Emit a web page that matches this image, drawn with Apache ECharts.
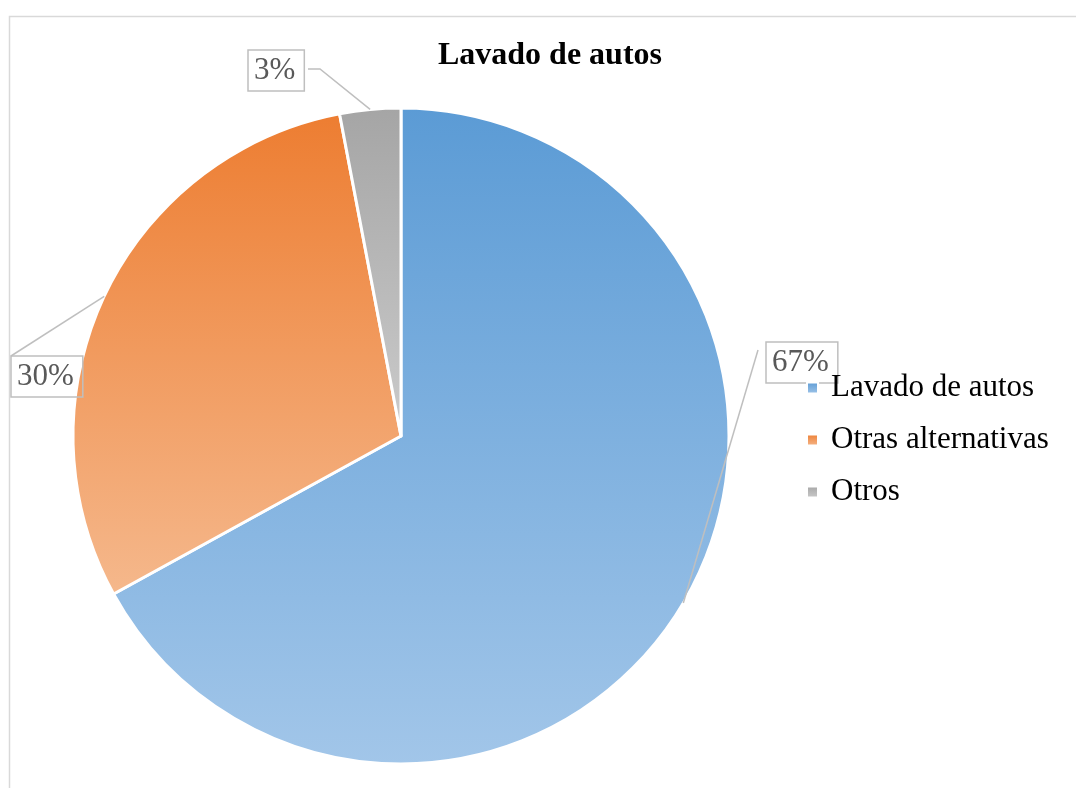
<!DOCTYPE html>
<html lang="es">
<head>
    <meta charset="UTF-8">
    <title>Lavado de autos</title>
    <script type="text/javascript" src="https://cdn.jsdelivr.net/npm/echarts@6/dist/echarts.min.js"></script>
    <style>
        html, body { margin: 0; padding: 0; background: #fff; }
    </style>
</head>
<body>
<div id="main" style="width: 1076px;height:788px;"></div>

<script type="text/javascript">
    // datos del grafico
    var categorias = ['Lavado de autos', 'Otras alternativas', 'Otros'];
    var valores = [67, 30, 3];
    var colorArriba = ['#5B9BD5', '#ED7D31', '#A5A5A5'];
    var colorAbajo = ['#A2C6E9', '#F5B88C', '#CBCBCB'];

    // posicion de las etiquetas (esquina sup. izq. de la caja) y quiebres de la linea guia
    var cajaEtiqueta = [[766, 342], [11, 356], [248, 50]];
    var lineaEtiqueta = [[[758, 350]], [[11, 356]], [[320, 69], [308, 69]]];

    var serif = '"Liberation Serif", "DejaVu Serif", serif';
    var centro = [401, 436];
    var radio = 328;

    var datos = [];
    var datosEtiq = [];
    for (var i = 0; i < categorias.length; i++) {
        datos.push({
            name: categorias[i],
            value: valores[i],
            itemStyle: {
                color: new echarts.graphic.LinearGradient(0, 0, 0, 1, [
                    { offset: 0, color: colorArriba[i] },
                    { offset: 1, color: colorAbajo[i] }
                ])
            }
        });
        datosEtiq.push({ name: categorias[i], value: valores[i] });
    }

    // punto medio del borde de cada porcion (inicio de la linea guia)
    var total = valores.reduce(function (a, b) { return a + b; }, 0);
    function puntoMedio(k) {
        var acum = 0;
        for (var j = 0; j < k; j++) acum += valores[j];
        var ang = (acum + valores[k] / 2) / total * Math.PI * 2;
        return [centro[0] + radio * Math.sin(ang), centro[1] - radio * Math.cos(ang)];
    }

    var myChart = echarts.init(document.getElementById('main'));
    myChart.setOption({
        backgroundColor: '#fff',
        animation: false,
        title: {
            text: 'Lavado de autos',
            left: 545,
            top: 35,
            textAlign: 'center',
            textStyle: { fontFamily: serif, fontSize: 32, fontWeight: 'bold', color: '#000' }
        },
        legend: {
            orient: 'vertical',
            left: 806,
            top: 372,
            padding: 0,
            itemWidth: 11,
            itemHeight: 11,
            itemGap: 20,
            icon: 'rect',
            data: categorias,
            textStyle: { fontFamily: serif, fontSize: 31, lineHeight: 32, color: '#000', padding: [0, 0, 0, 8] }
        },
        graphic: [{
            type: 'rect',
            shape: { x: 9.5, y: 16.5, width: 1200, height: 900 },
            style: { fill: null, stroke: '#D9D9D9', lineWidth: 1.5 },
            silent: true
        }],
        series: [{
            // porciones
            type: 'pie',
            center: centro,
            radius: radio,
            startAngle: 90,
            clockwise: true,
            itemStyle: { borderColor: '#fff', borderWidth: 3 },
            label: { show: false },
            labelLine: { show: false },
            data: datos
        }, {
            // misma torta transparente encima, solo para etiquetas y lineas guia
            type: 'pie',
            z: 3,
            silent: true,
            center: centro,
            radius: radio,
            startAngle: 90,
            clockwise: true,
            avoidLabelOverlap: false,
            itemStyle: { color: 'rgba(0,0,0,0)', borderWidth: 0 },
            label: {
                show: true,
                formatter: '{d}%',
                fontFamily: serif,
                fontSize: 31,
                lineHeight: 34,
                color: '#595959',
                borderColor: '#BFBFBF',
                borderWidth: 1.5,
                padding: [4, 9, 3, 6]
            },
            labelLine: { show: true, lineStyle: { color: '#BFBFBF', width: 1.5 } },
            labelLayout: function (p) {
                var k = p.dataIndex;
                return {
                    x: cajaEtiqueta[k][0],
                    y: cajaEtiqueta[k][1],
                    align: 'left',
                    verticalAlign: 'top',
                    labelLinePoints: [puntoMedio(k)].concat(lineaEtiqueta[k])
                };
            },
            data: datosEtiq
        }]
    });
</script>
</body>
</html>
